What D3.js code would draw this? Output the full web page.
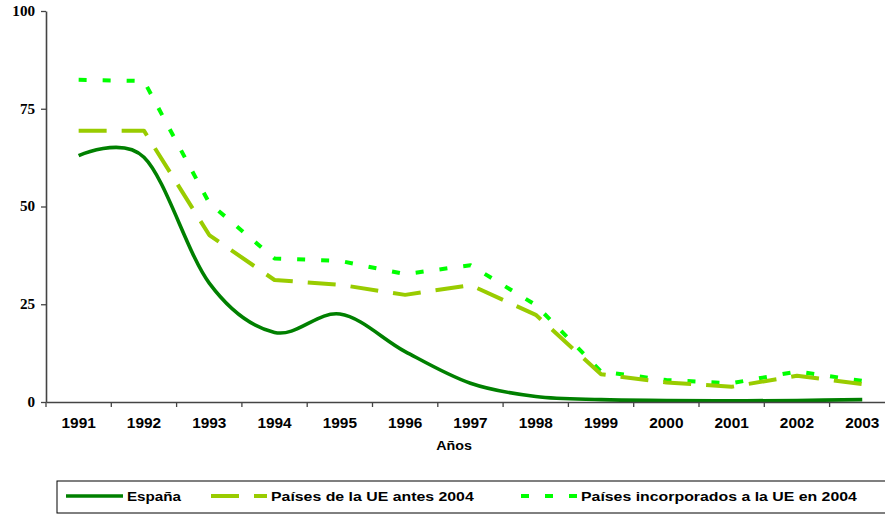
<!DOCTYPE html>
<html>
<head>
<meta charset="utf-8">
<script src="https://cdn.jsdelivr.net/npm/d3@7/dist/d3.min.js"></script>
<style>
  html, body { margin: 0; padding: 0; background: #fff; }
  svg { display: block; }
</style>
</head>
<body>
<svg id="chart" width="885" height="515"></svg>
<script>
// ---- Data ----
const years = ["1991","1992","1993","1994","1995","1996","1997","1998","1999","2000","2001","2002","2003"];
const espana = [63.0, 62.6, 30.4, 17.8, 22.5, 12.9, 4.8, 1.4, 0.6, 0.4, 0.3, 0.4, 0.6];
const ueAntes2004 = [69.4, 69.4, 42.7, 31.2, 30.0, 27.4, 29.9, 22.3, 7.1, 5.0, 3.9, 6.7, 4.6];
const incorporados2004 = [82.4, 82.1, 50.9, 36.7, 36.1, 32.7, 35.0, 24.8, 7.8, 5.6, 4.8, 7.8, 5.4];
const yTicks = [0, 25, 50, 75, 100];
const seriesNames = ["España", "Países de la UE antes 2004", "Países incorporados a la UE en 2004"];
const xTitle = "Años";

// ---- Layout ----
const svg = d3.select("#chart");
const plotLeft = 46, plotTop = 11, plotBottom = 402, step = 65.3;
const x = d3.scaleBand().domain(years).range([plotLeft, plotLeft + years.length * step]).padding(0);
const y = d3.scaleLinear().domain([0, 100]).range([plotBottom, plotTop]);
const cx = d => x(d) + x.bandwidth() / 2;
const axisColor = "#444";

// ---- Series ----
const series = [
  { name: seriesNames[0], values: espana, color: "#008000", dash: null, width: 3.6, curve: d3.curveCardinal.tension(0) },
  { name: seriesNames[1], values: ueAntes2004, color: "#99CC00", dash: "28,15", width: 4, curve: d3.curveLinear },
  { name: seriesNames[2], values: incorporados2004, color: "#00FF00", dash: "8,16", width: 4, curve: d3.curveLinear }
];

[series[2], series[1], series[0]].forEach(s => {
  const line = d3.line().x((v, i) => cx(years[i])).y(v => y(v)).curve(s.curve);
  svg.append("path")
    .attr("d", line(s.values))
    .attr("fill", "none")
    .attr("stroke", s.color)
    .attr("stroke-width", s.width)
    .attr("stroke-dasharray", s.dash)
    .attr("stroke-linejoin", "round");
});

// ---- Y axis ----
const yAxis = svg.append("g")
  .attr("transform", `translate(${plotLeft},0)`)
  .call(d3.axisLeft(y).tickValues(yTicks).tickSize(5).tickSizeOuter(0));
yAxis.select(".domain").attr("stroke", axisColor).attr("stroke-width", 1.6);
yAxis.selectAll(".tick line").attr("stroke", axisColor).attr("stroke-width", 1.3);
yAxis.selectAll(".tick text")
  .attr("font-family", "'Liberation Serif', 'Times New Roman', serif")
  .attr("font-weight", "bold")
  .attr("font-size", 14)
  .attr("fill", "#000")
  .attr("x", -11 / 1.08)
  .attr("transform", "scale(1.08,1)");

// ---- X axis ----
const xAxis = svg.append("g")
  .attr("transform", `translate(0,${plotBottom})`)
  .call(d3.axisBottom(x).tickSize(0).tickSizeOuter(0).tickPadding(16));
xAxis.select(".domain").attr("stroke", axisColor).attr("stroke-width", 1.6);
xAxis.selectAll(".tick line").remove();
xAxis.selectAll(".tick text")
  .attr("font-family", "'Liberation Sans', Arial, sans-serif")
  .attr("font-weight", "bold")
  .attr("font-size", 14)
  .attr("fill", "#000")
  .attr("transform", "scale(1.1,1)");
xAxis.selectAll(".bound")
  .data(years)
  .enter().append("line")
  .attr("class", "bound")
  .attr("x1", d => x(d)).attr("x2", d => x(d))
  .attr("y1", 0).attr("y2", 5)
  .attr("stroke", axisColor).attr("stroke-width", 1.3);

svg.append("text")
  .attr("x", 454 / 1.1).attr("y", 450)
  .attr("transform", "scale(1.1,1)")
  .attr("text-anchor", "middle")
  .attr("font-family", "'Liberation Sans', Arial, sans-serif")
  .attr("font-weight", "bold")
  .attr("font-size", 13)
  .text(xTitle);

// ---- Legend ----
const lg = svg.append("g");
lg.append("rect")
  .attr("x", 57).attr("y", 481).attr("width", 860).attr("height", 32)
  .attr("fill", "none").attr("stroke", "#000").attr("stroke-width", 1);
const legendPos = [
  { x1: 66, x2: 123, tx: 127, sx: 1.17 },
  { x1: 211, x2: 267, tx: 271, sx: 1.22 },
  { x1: 521, x2: 580, tx: 581, sx: 1.22 }
];
series.forEach((s, i) => {
  const p = legendPos[i];
  lg.append("line")
    .attr("x1", p.x1).attr("x2", p.x2).attr("y1", 496).attr("y2", 496)
    .attr("stroke", s.color).attr("stroke-width", s.width)
    .attr("stroke-dasharray", s.dash);
  lg.append("text")
    .attr("x", p.tx / p.sx).attr("y", 501.5)
    .attr("transform", `scale(${p.sx},1)`)
    .attr("font-family", "'Liberation Sans', Arial, sans-serif")
    .attr("font-weight", "bold")
    .attr("font-size", 13)
    .attr("fill", "#000")
    .text(s.name);
});
</script>
</body>
</html>
